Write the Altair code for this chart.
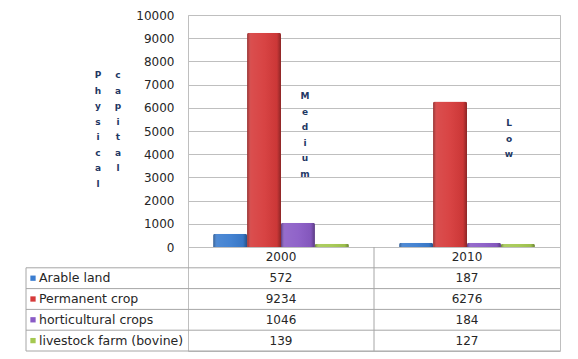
import altair as alt
import pandas as pd

# ---------------- data ----------------
years = ["2000", "2010"]
series = ["Arable land", "Permanent crop", "horticultural crops", "livestock farm (bovine)"]
values_2000 = [572, 9234, 1046, 139]
values_2010 = [187, 6276, 184, 127]
colors = ["#3B7DD0", "#D63A3A", "#8A5BC6", "#A4C850"]
y_ticks = list(range(0, 10001, 1000))
axis_words = ["Physical", "capital"]
annotations = ["Medium", "Low"]

rows = []
for i, s in enumerate(series):
    rows.append({"year": years[0], "series": s, "value": values_2000[i]})
    rows.append({"year": years[1], "series": s, "value": values_2010[i]})
df = pd.DataFrame(rows)

row_keys = ["header"] + series
cells = [{"row": "header", "year": y, "label": y} for y in years]
for i, s in enumerate(series):
    cells.append({"row": s, "year": years[0], "label": str(values_2000[i])})
    cells.append({"row": s, "year": years[1], "label": str(values_2010[i])})
cells_df = pd.DataFrame(cells)
series_df = pd.DataFrame({"row": series, "series": series})
last_df = pd.DataFrame({"row": [series[-1]]})
first_df = pd.DataFrame({"row": [series[0]]})
div_df = pd.DataFrame({"year": [years[1]]})

# ---------------- style ----------------
FONT = "DejaVu Sans"
W, H = 372, 232
TH = 104
LABEL_COL = 162
GRID = "#BFBFBF"
BORDER = "#A6A6A6"
TEXT = "#262626"
NAVY = "#1F3864"

color_scale = alt.Scale(domain=series, range=colors)
x_scale = alt.Scale(type="band", domain=years, paddingInner=0, paddingOuter=0)

# ---------------- bar chart ----------------
base = alt.Chart(df).encode(
    x=alt.X("year:N", scale=x_scale, axis=None),
    xOffset=alt.XOffset("series:N", scale=alt.Scale(domain=series, paddingInner=0, paddingOuter=0.74)),
    y=alt.Y(
        "value:Q",
        scale=alt.Scale(domain=[0, 10000], nice=False),
        axis=alt.Axis(values=y_ticks, format="d", title=None, grid=True, gridColor=GRID,
                      ticks=False, domain=False, labelFont=FONT, labelFontSize=12,
                      labelColor=TEXT, labelPadding=14),
    ),
)
bars = base.mark_bar(cornerRadiusTopLeft=2, cornerRadiusTopRight=2).encode(
    color=alt.Color("series:N", scale=color_scale, legend=None)
)
shade = base.mark_bar(
    cornerRadiusTopLeft=2, cornerRadiusTopRight=2,
    color=alt.Gradient(
        gradient="linear", x1=0, x2=1, y1=0, y2=0,
        stops=[
            alt.GradientStop(offset=0, color="rgba(0,0,0,0.35)"),
            alt.GradientStop(offset=0.12, color="rgba(255,255,255,0.10)"),
            alt.GradientStop(offset=0.5, color="rgba(255,255,255,0.05)"),
            alt.GradientStop(offset=0.88, color="rgba(0,0,0,0.05)"),
            alt.GradientStop(offset=1, color="rgba(0,0,0,0.35)"),
        ],
    ),
)

def vtext(word, x, y):
    d = pd.DataFrame({"t": ["\n".join(word)]})
    return alt.Chart(d).mark_text(
        lineBreak="\n", lineHeight=15.5, baseline="top", align="center",
        font=FONT, fontSize=9, fontWeight="bold", color=NAVY,
    ).encode(text="t:N", x=alt.value(x), y=alt.value(y))

top = alt.layer(
    bars, shade,
    vtext(axis_words[0], -90, 56),
    vtext(axis_words[1], -70, 56),
    vtext(annotations[0], 117, 77),
    vtext(annotations[1], 321, 104),
).properties(width=W, height=H)

# ---------------- data table ----------------
tx = alt.X("year:N", scale=x_scale, axis=None)
ty_scale = alt.Scale(type="band", domain=row_keys, paddingInner=0, paddingOuter=0)
ty = alt.Y("row:N", scale=ty_scale, axis=None)

cell_text = alt.Chart(cells_df).mark_text(font=FONT, fontSize=12, color=TEXT).encode(
    x=tx, y=ty, text="label:N"
)
row_labels = alt.Chart(series_df).mark_text(
    font=FONT, fontSize=12.5, color=TEXT, align="left", baseline="middle"
).encode(y=ty, x=alt.value(-LABEL_COL + 13), text="series:N")
hrules = alt.Chart(series_df).mark_rule(color=BORDER, strokeWidth=1).encode(
    y=alt.Y("row:N", scale=ty_scale, bandPosition=0, axis=None),
    x=alt.value(-LABEL_COL), x2=alt.value(W),
)
bottom_rule = alt.Chart(last_df).mark_rule(color=BORDER, strokeWidth=1).encode(
    y=alt.Y("row:N", scale=ty_scale, bandPosition=1, axis=None),
    x=alt.value(-LABEL_COL), x2=alt.value(W),
)
left_rule = alt.Chart(first_df).mark_rule(color=BORDER, strokeWidth=1).encode(
    y=alt.Y("row:N", scale=ty_scale, bandPosition=0, axis=None),
    y2=alt.value(TH), x=alt.value(-LABEL_COL),
)
mid_rule = alt.Chart(div_df).mark_rule(color=BORDER, strokeWidth=1).encode(
    x=alt.X("year:N", scale=x_scale, bandPosition=0, axis=None),
    y=alt.value(0), y2=alt.value(TH),
)
squares = alt.Chart(series_df).mark_square(size=28, opacity=1).encode(
    y=ty,
    x=alt.value(-LABEL_COL + 7),
    color=alt.Color("series:N", scale=color_scale, legend=None),
)

table = alt.layer(
    hrules, bottom_rule, left_rule, mid_rule, squares, row_labels, cell_text
).properties(width=W, height=TH)

chart = alt.vconcat(top, table, spacing=0, bounds="flush").resolve_scale(
    x="independent", y="independent", xOffset="independent", color="shared"
).properties(
    padding={"left": 17, "top": 0, "right": 5, "bottom": 5},
    background="white",
).configure_view(stroke=GRID)

chart.save("out.html", embed_options={"renderer": "svg", "actions": False})
